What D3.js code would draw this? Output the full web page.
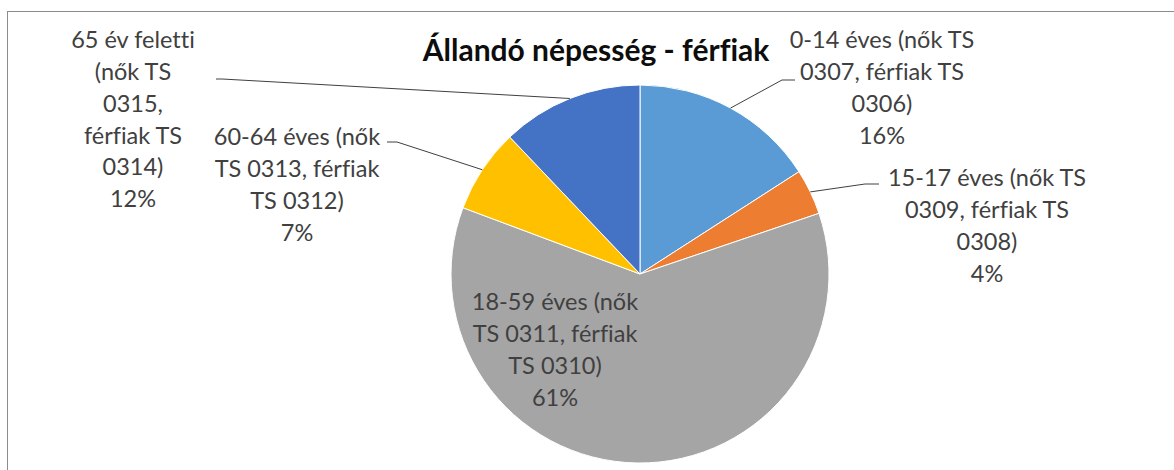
<!DOCTYPE html>
<html>
<head>
<meta charset="utf-8">
<script src="https://cdn.jsdelivr.net/npm/d3@7"></script>
<style>
  html, body { margin: 0; padding: 0; background: #fff; }
  svg { display: block; }
  .title { font-family: Lato, "Noto Sans", sans-serif; font-weight: bold; fill: #0d0d0d; font-variant-ligatures: none; }
  .label { font-family: Lato, "Noto Sans", sans-serif; fill: #404040; font-variant-ligatures: none; }
  .leader { fill: none; stroke: #404040; stroke-width: 1; }
</style>
</head>
<body>
<svg id="chart" width="1174" height="470"></svg>
<script>
// data
const categories = [
    '0-14 éves (nők TS 0307, férfiak TS 0306)',
    '15-17 éves (nők TS 0309, férfiak TS 0308)',
    '18-59 éves (nők TS 0311, férfiak TS 0310)',
    '60-64 éves (nők TS 0313, férfiak TS 0312)',
    '65 év feletti (nők TS 0315, férfiak TS 0314)'
];
const values = [15.9, 3.9, 60.9, 7.2, 12.1];
const labelLines = [
    ['0-14 éves (nők TS', '0307, férfiak TS', '0306)'],
    ['15-17 éves (nők TS', '0309, férfiak TS', '0308)'],
    ['18-59 éves (nők', 'TS 0311, férfiak', 'TS 0310)'],
    ['60-64 éves (nők', 'TS 0313, férfiak', 'TS 0312)'],
    ['65 év feletti', '(nők TS', '0315,', 'férfiak TS', '0314)']
];
const colors = ['#5b9bd5', '#ed7d31', '#a5a5a5', '#ffc000', '#4472c4'];
const title = 'Állandó népesség - férfiak';

// layout (Excel places the labels by hand)
const W = 1174, H = 470;
const cx = 640, cy = 274, R = 189;
const lineH = 31.8;
const labelPos = [
    {x: 882, y: 40, leader: [[782, 80], [795, 80]]},
    {x: 987, y: 178, leader: [[865, 184], [879, 184]]},
    {x: 555, y: 302, leader: null},
    {x: 297, y: 137, leader: [[397, 142], [387, 142]]},
    {x: 133, y: 40, leader: [[222, 79], [216, 79]]}
];

const svg = d3.select('#chart');

svg.append('rect')
    .attr('x', 7.5).attr('y', 11.5)
    .attr('width', W).attr('height', H)
    .attr('fill', '#fff')
    .attr('stroke', '#8c8c8c').attr('stroke-width', 1);

svg.append('text')
    .attr('class', 'title')
    .attr('x', 596).attr('y', 61)
    .attr('text-anchor', 'middle')
    .attr('font-size', 30)
    .text(title);

const pie = d3.pie().sort(null).value(d => d);
const arcs = pie(values);
const arc = d3.arc().innerRadius(0).outerRadius(R);
const edge = d3.arc().innerRadius(R).outerRadius(R);

const g = svg.append('g').attr('transform', `translate(${cx},${cy})`);

g.selectAll('path.slice')
    .data(arcs)
    .enter()
    .append('path')
    .attr('class', 'slice')
    .attr('d', arc)
    .attr('fill', (d, i) => colors[i])
    .attr('stroke', '#fff')
    .attr('stroke-width', 1);

// leader lines from the slice edge at mid angle
const line = d3.line();
arcs.forEach((d, i) => {
    const p = labelPos[i];
    if (!p.leader) return;
    const start = edge.centroid(d);
    const pts = [[start[0] + cx, start[1] + cy]].concat(p.leader);
    svg.append('path').attr('class', 'leader').attr('d', line(pts));
});

// data labels
const fmt = d3.format('.0f');
arcs.forEach((d, i) => {
    const p = labelPos[i];
    const t = svg.append('text')
        .attr('class', 'label')
        .attr('text-anchor', 'middle')
        .attr('font-size', 23.5)
        .attr('x', p.x)
        .attr('y', p.y);
    const lines = labelLines[i].concat([fmt(d.data) + '%']);
    lines.forEach((s, k) => {
        t.append('tspan')
            .attr('x', p.x)
            .attr('y', p.y + k * lineH)
            .attr('dy', '0.35em')
            .text(s);
    });
});
</script>
</body>
</html>
